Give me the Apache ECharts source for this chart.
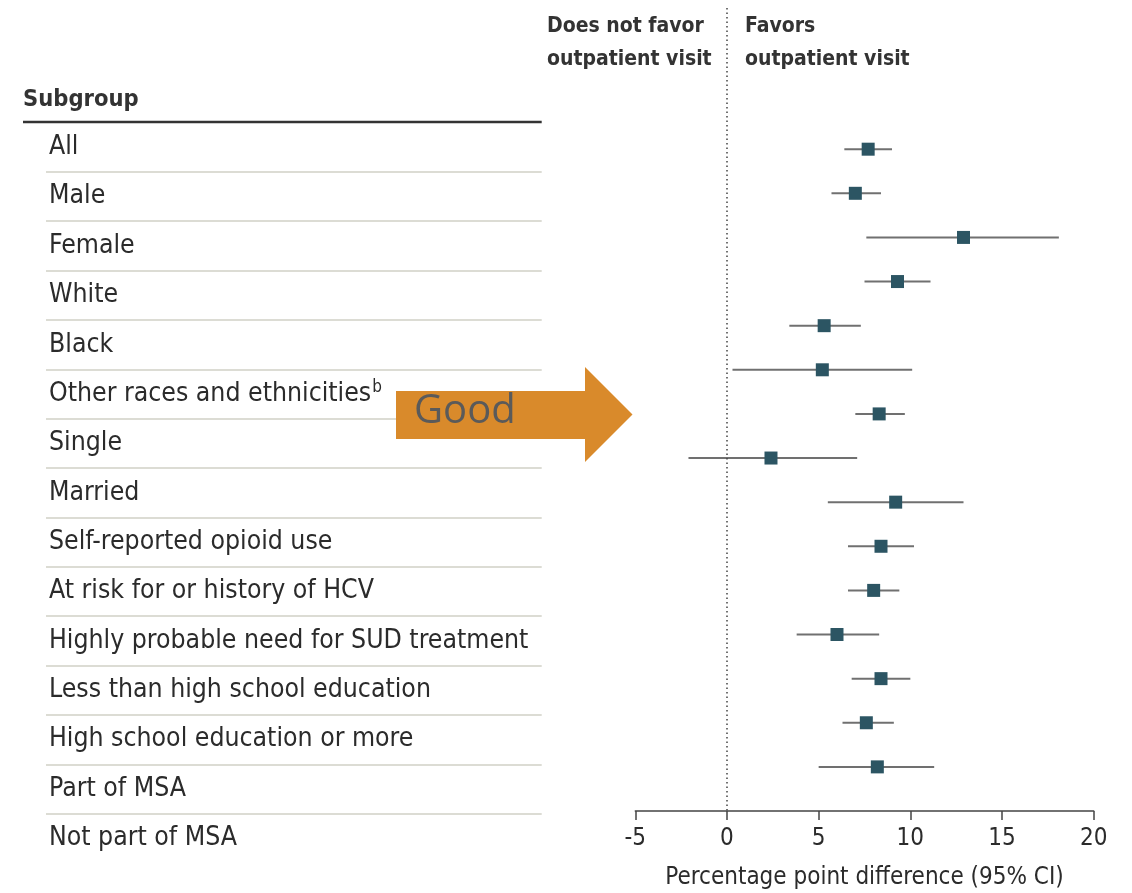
<!DOCTYPE html>
<html>
<head>
<meta charset="utf-8">
<script src="https://cdn.jsdelivr.net/npm/echarts@6/dist/echarts.min.js"></script>
<style>
  html, body { margin: 0; padding: 0; background: #fff; }
  #chart { width: 1132px; height: 893px; }
</style>
</head>
<body>
<div id="chart"></div>
<script>
// subgroups, top to bottom
var subgroups = ['All', 'Male', 'Female', 'White', 'Black', 'Other races and ethnicities',
  'Single', 'Married', 'Self-reported opioid use', 'At risk for or history of HCV',
  'Highly probable need for SUD treatment', 'Less than high school education',
  'High school education or more', 'Part of MSA', 'Not part of MSA'];

// estimates and 95% CI (as drawn, 15 markers)
var estimate = [7.7, 7.0, 12.9, 9.3, 5.3, 5.2, 8.3, 2.4, 9.2, 8.4, 8.0, 6.0, 8.4, 7.6, 8.2];
var ciLow    = [6.4, 5.7, 7.6, 7.5, 3.4, 0.3, 7.0, -2.1, 5.5, 6.6, 6.6, 3.8, 6.8, 6.3, 5.0];
var ciHigh   = [9.0, 8.4, 18.1, 11.1, 7.3, 10.1, 9.7, 7.1, 12.9, 10.2, 9.4, 8.3, 10.0, 9.1, 11.3];

var xTicks = [-5, 0, 5, 10, 15, 20];

var font = "'DejaVu Sans Condensed', 'Liberation Sans Narrow', sans-serif";
var textColor = '#2b2b2b';

var pointData = estimate.map(function (v, i) { return [v, i]; });
var ciData = estimate.map(function (v, i) { return [ciLow[i], ciHigh[i], i]; });

var chart = echarts.init(document.getElementById('chart'));

var option = {
  animation: false,
  backgroundColor: '#fff',
  grid: [
    { left: 635.3, right: 38.3, top: 8, bottom: 82, outerBoundsMode: 'none' },
    { left: 46, right: 590.3, top: 122.5, bottom: 30, outerBoundsMode: 'none' }
  ],
  xAxis: [
    {
      gridIndex: 0,
      type: 'value',
      min: xTicks[0],
      max: xTicks[xTicks.length - 1],
      interval: 5,
      name: 'Percentage point difference (95% CI)',
      nameLocation: 'middle',
      nameGap: 55,
      nameTextStyle: { fontFamily: font, fontSize: 24, color: textColor },
      axisLine: { onZero: false, lineStyle: { color: '#444', width: 1.5 } },
      axisTick: { show: true, length: 9, lineStyle: { color: '#444', width: 1.5 } },
      axisLabel: { fontFamily: font, fontSize: 24, color: textColor, margin: 16 },
      splitLine: { show: false }
    },
    { gridIndex: 1, type: 'value', show: false, min: 0, max: 1 }
  ],
  yAxis: [
    {
      gridIndex: 0,
      type: 'value',
      inverse: true,
      min: -3.2,
      max: 15,
      show: false
    },
    {
      gridIndex: 1,
      type: 'category',
      inverse: true,
      data: subgroups,
      axisLine: { show: false },
      axisTick: { show: false },
      axisLabel: {
        inside: true,
        margin: 3,
        formatter: function (v) {
          if (v === 'Other races and ethnicities') return '{t|' + v + '}{sup|b}';
          return '{t|' + v + '}';
        },
        rich: {
          t: { fontFamily: font, fontSize: 26.4, color: textColor },
          sup: { fontFamily: font, fontSize: 17, color: textColor, verticalAlign: 'top', padding: [0, 0, 12, 1] }
        }
      },
      splitLine: {
        show: true,
        showMinLine: false,
        showMaxLine: false,
        lineStyle: { color: '#dcdcd4', width: 2 }
      }
    }
  ],
  series: [
    {
      type: 'custom',
      xAxisIndex: 0,
      yAxisIndex: 0,
      data: ciData,
      encode: { x: [0, 1], y: 2 },
      renderItem: function (params, api) {
        var a = api.coord([api.value(0), api.value(2)]);
        var b = api.coord([api.value(1), api.value(2)]);
        return {
          type: 'line',
          shape: { x1: a[0], y1: a[1], x2: b[0], y2: b[1] },
          style: { stroke: '#707070', lineWidth: 2 }
        };
      },
      z: 2
    },
    {
      type: 'scatter',
      xAxisIndex: 0,
      yAxisIndex: 0,
      data: pointData,
      symbol: 'rect',
      symbolSize: 13,
      itemStyle: { color: '#2c5563', opacity: 1 },
      z: 3,
      markLine: {
        silent: true,
        symbol: 'none',
        label: { show: false },
        lineStyle: { color: '#444', type: [1.5, 3], width: 1.5 },
        data: [{ xAxis: 0 }]
      }
    }
  ],
  graphic: [
    { type: 'line', shape: { x1: 23, y1: 122, x2: 541.7, y2: 122 }, style: { stroke: '#333', lineWidth: 2.5 } },
    { type: 'text', left: 23, top: 88, style: { text: 'Subgroup', fontFamily: font, fontSize: 23.5, fontWeight: 'bold', fill: '#333' } },
    { type: 'text', left: 547, top: 10, style: { text: 'Does not favor\noutpatient visit', fontFamily: font, fontSize: 21, fontWeight: 'bold', lineHeight: 33, fill: '#333' } },
    { type: 'text', left: 745, top: 10, style: { text: 'Favors\noutpatient visit', fontFamily: font, fontSize: 21, fontWeight: 'bold', lineHeight: 33, fill: '#333' } },
    {
      type: 'polygon', z: 100,
      shape: { points: [[396, 391], [585, 391], [585, 367], [632.5, 414.5], [585, 462], [585, 439], [396, 439]] },
      style: { fill: '#d98a2b' }
    },
    { type: 'text', z: 101, left: 414, top: 392, style: { text: 'Good', fontFamily: "'Open Sans', sans-serif", fontSize: 40, fill: '#5a5a5a' } }
  ]
};

chart.setOption(option);
</script>
</body>
</html>
